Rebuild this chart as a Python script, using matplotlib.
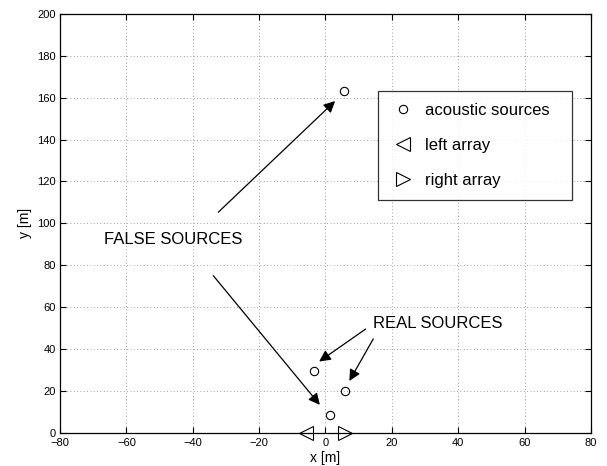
import matplotlib
matplotlib.use('Agg')
import matplotlib.pyplot as plt

plt.rcParams['font.family'] = ['Liberation Sans', 'DejaVu Sans']

# acoustic sources (real and false), metres
src_x = [5.6, -3.5, 5.9, 1.4]
src_y = [163.0, 29.5, 20.0, 8.5]

# microphone arrays
left_x, left_y = [-6.0], [0.0]
right_x, right_y = [6.0], [0.0]

# annotations: (text pos), arrows (start, end)
false_txt = (-66.6, 92.5)
false_arrows = [((-32.3, 105.3), (2.9, 158.4)),
                ((-33.8, 75.0), (-1.7, 13.3))]
real_txt = (14.3, 52.0)
real_arrows = [((12.1, 49.5), (-1.9, 34.0)),
               ((14.4, 44.8), (7.2, 24.7))]

fig = plt.figure(figsize=(6.07, 4.66), dpi=100)
ax = fig.add_axes([0.0988, 0.0715, 0.8748, 0.8985])

ax.plot(src_x, src_y, 'o', mfc='none', mec='k', ms=6, mew=0.8,
        label='acoustic sources', clip_on=False, zorder=5)
ax.plot(left_x, left_y, '<', mfc='none', mec='k', ms=10, mew=0.8,
        label='left array', clip_on=False, zorder=5)
ax.plot(right_x, right_y, '>', mfc='none', mec='k', ms=10, mew=0.8,
        label='right array', clip_on=False, zorder=5)

ax.text(false_txt[0], false_txt[1], 'FALSE SOURCES', fontsize=12,
        ha='left', va='center')
for start, end in false_arrows:
    ax.annotate('', xy=end, xytext=start,
                arrowprops=dict(arrowstyle='-|>', color='k', lw=0.9,
                                mutation_scale=17, shrinkA=0, shrinkB=0))

ax.text(real_txt[0], real_txt[1], 'REAL SOURCES', fontsize=12,
        ha='left', va='center')
for start, end in real_arrows:
    ax.annotate('', xy=end, xytext=start,
                arrowprops=dict(arrowstyle='-|>', color='k', lw=0.9,
                                mutation_scale=17, shrinkA=0, shrinkB=0))

ax.set_xlim(-80, 80)
ax.set_ylim(0, 200)
ax.set_xticks(range(-80, 81, 20))
ax.set_yticks(range(0, 201, 20))
ax.tick_params(direction='in', length=4, width=0.8, top=True, right=True,
               labelsize=8)
ax.tick_params(axis='x', pad=4)
ax.tick_params(axis='y', pad=3)
ax.grid(True, color='0.5', linestyle=(0, (1, 3)), linewidth=0.6)
for sp in ax.spines.values():
    sp.set_linewidth(0.9)

ax.set_xlabel('x [m]', fontsize=10, labelpad=2)
ax.set_ylabel('y [m]', fontsize=10, labelpad=4)

leg = ax.legend(loc='upper left', bbox_to_anchor=(0.599, 0.562, 0.365, 0.255),
                mode='expand', fontsize=12, frameon=True, fancybox=False,
                edgecolor='k', handlelength=1.5, handletextpad=0.6,
                labelspacing=1.2, borderpad=0.72, borderaxespad=0,
                numpoints=1)
leg.get_frame().set_linewidth(0.9)

fig.savefig('out.png', dpi=100)
